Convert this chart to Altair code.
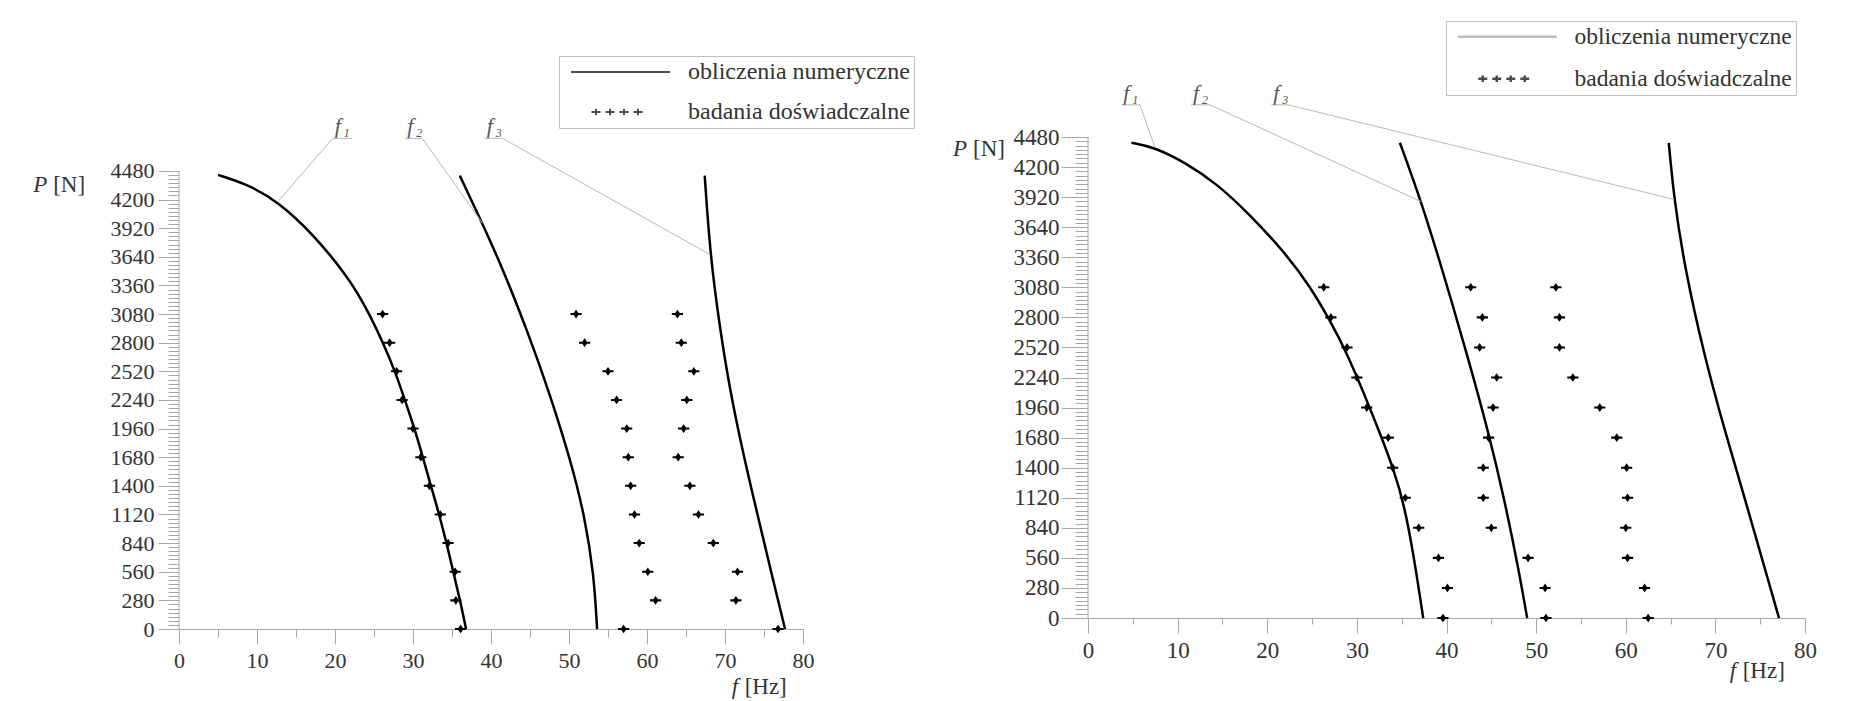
import altair as alt
import pandas as pd

SERIF = "Liberation Serif"
AXIS_COL = "#a8a8a8"
LABEL_COL = "#333333"
LEADER_COL = "#b8b8b8"

KINDS = ["obliczenia numeryczne", "badania doświadczalne"]
X_TICKS = list(range(0, 81, 5))
Y_TICKS = list(range(0, 4481, 40))

# experimental load levels
P_EXP = [3080, 2800, 2520, 2240, 1960, 1680, 1400, 1120, 840, 560, 280, 0]

# ---------------- left panel ----------------
L_EXP_1 = [26.1, 27.0, 27.9, 28.6, 30.0, 31.0, 32.1, 33.5, 34.5, 35.4, 35.5, 36.1]
L_EXP_2 = [50.9, 52.0, 55.0, 56.1, 57.4, 57.6, 57.9, 58.4, 59.0, 60.1, 61.1, 57.0]
L_EXP_3 = [63.9, 64.4, 66.0, 65.1, 64.7, 64.0, 65.5, 66.6, 68.5, 71.6, 71.4, 76.8]

L_F1_HZ = [5.0, 8.8, 12.7, 17.3, 21.3, 22.9, 24.4, 26.1, 27.8, 29.0, 30.2, 31.3, 32.3, 33.4, 34.3, 35.2, 36.1, 36.8]
L_F1_P = [4441, 4349, 4182, 3854, 3475, 3285, 3081, 2810, 2501, 2230, 1960, 1670, 1399, 1109, 839, 549, 259, 0]
L_F2_HZ = [36.0, 38.4, 41.4, 44.8, 47.5, 50.2, 52.0, 53.2, 53.6]
L_F2_P = [4434, 4047, 3545, 2888, 2308, 1651, 1109, 530, 0]
L_F3_HZ = [67.4, 68.1, 69.3, 70.6, 72.4, 74.2, 76.0, 77.7]
L_F3_P = [4434, 3661, 2965, 2346, 1689, 1109, 530, 0]

L_LAB_SUB = ["1", "2", "3"]
L_LAB_X0 = [19.7, 29.0, 39.2]
L_LAB_X1 = [22.2, 31.2, 41.5]
L_LAB_P = [4798, 4798, 4798]
L_LEAD_FROM = [19.7, 31.2, 41.5]
L_LEAD_TO_HZ = [12.7, 38.9, 68.1]
L_LEAD_TO_P = [4182, 3970, 3661]

# ---------------- right panel ----------------
R_EXP_1 = [26.3, 27.1, 28.9, 30.0, 31.1, 33.5, 34.0, 35.4, 36.9, 39.1, 40.1, 39.6]
R_EXP_2 = [42.7, 44.0, 43.7, 45.6, 45.2, 44.7, 44.1, 44.1, 45.0, 49.1, 51.0, 51.1]
R_EXP_3 = [52.2, 52.6, 52.6, 54.1, 57.1, 59.0, 60.1, 60.2, 60.0, 60.2, 62.1, 62.5]

R_F1_HZ = [4.85, 7.46, 11.0, 14.4, 18.1, 21.8, 24.8, 27.1, 28.9, 30.8, 32.6, 34.1, 35.3, 36.4, 37.4]
R_F1_P = [4426, 4384, 4235, 4044, 3753, 3420, 3088, 2755, 2464, 2090, 1716, 1384, 1051, 553, 0]
R_F2_HZ = [34.8, 37.2, 39.8, 42.4, 44.6, 46.5, 48.1, 49.0]
R_F2_P = [4426, 3877, 3171, 2423, 1758, 1093, 428, 0]
R_F3_HZ = [64.8, 65.4, 66.6, 68.7, 71.0, 73.5, 75.2, 77.1]
R_F3_P = [4426, 3898, 3254, 2464, 1758, 1051, 553, 0]

R_LAB_SUB = ["1", "2", "3"]
R_LAB_X0 = [3.7, 11.5, 20.45]
R_LAB_X1 = [5.8, 13.6, 22.3]
R_LAB_P = [4780, 4780, 4780]
R_LEAD_FROM = [5.8, 13.6, 22.3]
R_LEAD_TO_HZ = [7.46, 37.2, 65.4]
R_LEAD_TO_P = [4384, 3877, 3898]

# symbol paths
EXP_PATH = ("M-1,-0.18L1,-0.18L1,0.18L-1,0.18Z "
            "M0,-0.78L0.55,0L0,0.78L-0.55,0Z")


def cross_row(centers, hx=0.45, hy=0.32):
    parts = []
    for c in centers:
        parts.append(f"M{c - hx:.2f},0L{c + hx:.2f},0M{c:.2f},{-hy:.2f}L{c:.2f},{hy:.2f}")
    return "".join(parts)


def make_panel(c):
    xs = alt.Scale(domain=[0, 80], nice=False, zero=False)
    ys = alt.Scale(domain=c["ydom"], nice=False, zero=False)
    xaxis = alt.Axis(
        values=X_TICKS, format="d",
        labelExpr="datum.value % 10 === 0 ? datum.label : ''",
        tickSize={"condition": {"test": "datum.value % 10 === 0", "value": c["xmaj"]}, "value": c["xmin"]},
        labelFont=SERIF, labelFontSize=c["fs"], labelColor=LABEL_COL,
        labelPadding=c["xpad"], labelFlush=False, labelOverlap=False,
        domainColor=AXIS_COL, tickColor=AXIS_COL, grid=False, title=None,
        offset=c["xoff"],
    )
    yaxis = alt.Axis(
        values=Y_TICKS, format="d",
        labelExpr="datum.value % 280 === 0 ? datum.label : ''",
        tickSize={"condition": {"test": "datum.value % 280 === 0", "value": c["ymaj"]}, "value": c["ymin"]},
        labelFont=SERIF, labelFontSize=c["fs"], labelColor=LABEL_COL,
        labelPadding=c["ypad"], labelOverlap=False,
        domain=False, tickColor=AXIS_COL, grid=False, title=None,
    )

    def X(f):
        return alt.X(f, type="quantitative", scale=xs, axis=xaxis)

    def Y(f):
        return alt.Y(f, type="quantitative", scale=ys, axis=yaxis)

    # numerical curves
    rows = []
    for name, hz, p in c["curves"]:
        for a, b in zip(hz, p):
            rows.append({"curve": name, "Hz": a, "P": b})
    curves = alt.Chart(pd.DataFrame(rows)).mark_line(
        color="black", strokeWidth=2.5, interpolate="basis"
    ).encode(x=X("Hz"), y=Y("P"), detail="curve:N", order=alt.Order("P:Q"))

    # experimental points
    rows = []
    for name, hz in c["exps"]:
        for a, b in zip(hz, P_EXP):
            rows.append({"series": name, "Hz": a, "P": b})
    pts = alt.Chart(pd.DataFrame(rows)).mark_point(
        shape=EXP_PATH, filled=True, color="black", size=125, opacity=1
    ).encode(x=X("Hz"), y=Y("P"))

    # y-axis line (0..4480)
    yline = alt.Chart(pd.DataFrame({"Hz": [0], "P0": [0], "P1": [4480]})).mark_rule(
        color=AXIS_COL, strokeWidth=1
    ).encode(x=X("Hz"), y=Y("P0"), y2=alt.Y2("P1"))

    # annotations f1..f3
    lab = pd.DataFrame({
        "sub": c["sub"], "x0": c["x0"], "x1": c["x1"], "yu": c["yu"],
        "lf": c["lf"], "tx": c["tx"], "ty": c["ty"],
    })
    under = alt.Chart(lab).mark_rule(color=LEADER_COL, strokeWidth=1).encode(
        x=X("x0"), x2=alt.X2("x1"), y=Y("yu"))
    leader = alt.Chart(lab).mark_rule(color=LEADER_COL, strokeWidth=1).encode(
        x=X("lf"), x2=alt.X2("tx"), y=Y("yu"), y2=alt.Y2("ty"))
    ftxt = alt.Chart(lab).mark_text(
        text="f", font=SERIF, fontStyle="italic", fontSize=c["ffs"], color="#555555",
        align="left", baseline="alphabetic", dx=2, dy=-5
    ).encode(x=X("x0"), y=Y("yu"))
    stxt = alt.Chart(lab).mark_text(
        font=SERIF, fontStyle="italic", fontSize=12, color="#555555",
        align="left", baseline="alphabetic", dx=11, dy=-1
    ).encode(x=X("x0"), y=Y("yu"), text="sub:N")

    # axis titles with mixed styles
    tdf = pd.DataFrame({"px": [c["ptitle"][0]], "py": [c["ptitle"][1]],
                        "fx": [c["ftitle"][0]], "fy": [c["ftitle"][1]]})
    p_it = alt.Chart(tdf).mark_text(text="P", font=SERIF, fontStyle="italic", fontSize=23,
                                    color=LABEL_COL, align="left", baseline="middle"
                                    ).encode(x=X("px"), y=Y("py"))
    p_un = alt.Chart(tdf).mark_text(text="[N]", font=SERIF, fontSize=23,
                                    color=LABEL_COL, align="left", baseline="middle", dx=20
                                    ).encode(x=X("px"), y=Y("py"))
    f_it = alt.Chart(tdf).mark_text(text="f", font=SERIF, fontStyle="italic", fontSize=23,
                                    color=LABEL_COL, align="left", baseline="middle"
                                    ).encode(x=X("fx"), y=Y("fy"))
    f_un = alt.Chart(tdf).mark_text(text="[Hz]", font=SERIF, fontSize=23,
                                    color=LABEL_COL, align="left", baseline="middle", dx=13
                                    ).encode(x=X("fx"), y=Y("fy"))

    # legend carrier (clipped, invisible in plot)
    legdf = pd.DataFrame({"Hz": [-50, -50], "P": [-5000, -5000], "kind": KINDS})
    lg = c["legend"]
    legend = alt.Legend(
        orient="none", legendX=lg["x"], legendY=lg["y"], title=None,
        strokeColor="#c0c0c0", fillColor="white", padding=lg["pad"],
        labelFont=SERIF, labelFontSize=lg["fs"], labelColor=LABEL_COL, labelLimit=500,
        symbolSize=400, symbolStrokeWidth=lg["sw"], rowPadding=lg["rowpad"],
        symbolOffset=lg["symoff"], labelOffset=lg["laboff"],
    )
    leg = alt.Chart(legdf).mark_point(clip=True, filled=False, strokeWidth=2).encode(
        x=X("Hz"), y=Y("P"),
        shape=alt.Shape("kind:N", scale=alt.Scale(domain=KINDS, range=[lg["linepath"], cross_row([-2.1, -0.7, 0.7, 2.1])]),
                        legend=legend),
        color=alt.Color("kind:N", scale=alt.Scale(domain=KINDS, range=[lg["linecol"], "black"]),
                        legend=legend),
    )

    return alt.layer(curves, yline, under, leader, ftxt, stxt, p_it, p_un, f_it, f_un, pts, leg).properties(
        width=c["w"], height=c["h"])


left = make_panel({
    "ydom": [0, 4812], "xoff": 0, "xmaj": 15, "xmin": 8, "xpad": 6,
    "ymaj": 21, "ymin": 11, "ypad": 4, "fs": 22, "ffs": 22,
    "curves": [("f1", L_F1_HZ, L_F1_P), ("f2", L_F2_HZ, L_F2_P), ("f3", L_F3_HZ, L_F3_P)],
    "exps": [("e1", L_EXP_1), ("e2", L_EXP_2), ("e3", L_EXP_3)],
    "sub": L_LAB_SUB, "x0": L_LAB_X0, "x1": L_LAB_X1, "yu": L_LAB_P,
    "lf": L_LEAD_FROM, "tx": L_LEAD_TO_HZ, "ty": L_LEAD_TO_P,
    "ptitle": (-18.7, 4345), "ftitle": (70.85, -563),
    "legend": {"x": 380, "y": -81, "pad": 4, "fs": 24, "rowpad": 16, "symoff": 42,
               "laboff": 59, "sw": 2, "linecol": "black", "linepath": "M-4.6,0L5.3,0"},
    "w": 624, "h": 492,
})

right = make_panel({
    "ydom": [-102.4, 4480], "xoff": -11, "xmaj": 15, "xmin": 6, "xpad": 6,
    "ymaj": 27, "ymin": 13, "ypad": 2, "fs": 23, "ffs": 22,
    "curves": [("f1", R_F1_HZ, R_F1_P), ("f2", R_F2_HZ, R_F2_P), ("f3", R_F3_HZ, R_F3_P)],
    "exps": [("e1", R_EXP_1), ("e2", R_EXP_2), ("e3", R_EXP_3)],
    "sub": R_LAB_SUB, "x0": R_LAB_X0, "x1": R_LAB_X1, "yu": R_LAB_P,
    "lf": R_LEAD_FROM, "tx": R_LEAD_TO_HZ, "ty": R_LEAD_TO_P,
    "ptitle": (-15.06, 4370), "ftitle": (71.6, -490),
    "legend": {"x": 358, "y": -116, "pad": 4, "fs": 23.5, "rowpad": 17, "symoff": 42,
               "laboff": 59, "sw": 2.5, "linecol": "#a0a0a0", "linepath": "M-4.6,0L5.3,0"},
    "w": 717, "h": 492,
})

chart = alt.hconcat(left, right, spacing=38).resolve_scale(
    x="independent", y="independent", color="independent", shape="independent"
).properties(
    padding={"left": 25, "top": 12, "right": 5, "bottom": 5}
).configure_view(strokeWidth=0)

chart.save("out.html", embed_options={"renderer": "svg", "actions": False})
